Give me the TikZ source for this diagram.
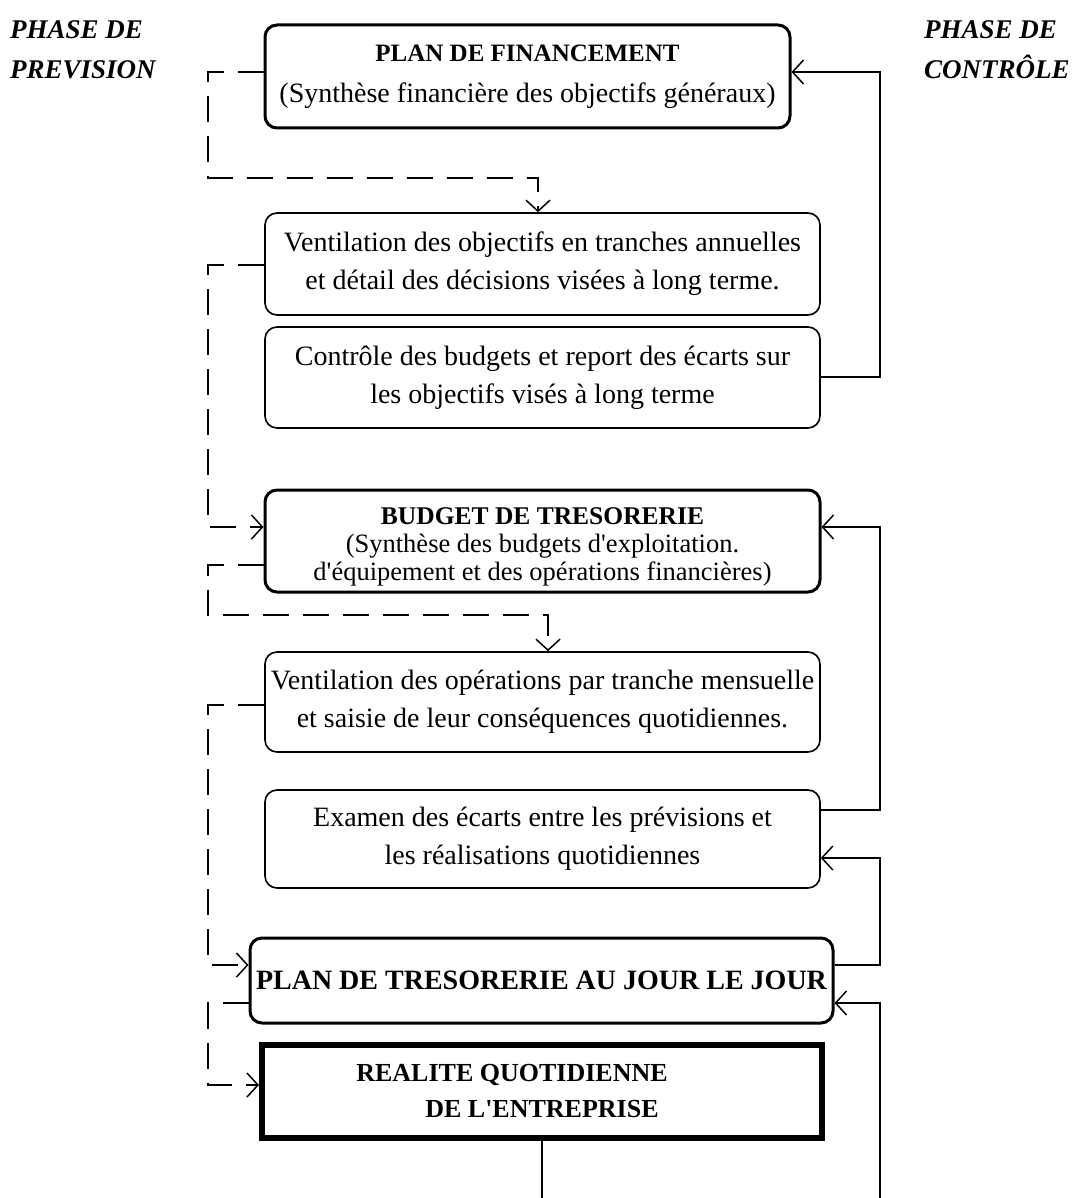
\documentclass[tikz,border=0pt]{standalone}
\usepackage{fontspec}
\setmainfont{Liberation Serif}
\usetikzlibrary{arrows.meta}
\newcommand{\apos}{\textquotesingle}
\begin{document}
\begin{tikzpicture}[x=1pt,y=-1pt,
  box/.style={draw, rounded corners=12pt, line width=1.6pt, align=center,
    inner sep=0pt, font=\fontsize{28}{38}\selectfont},
  keybox/.style={box, line width=3pt},
  realbox/.style={draw, line width=6pt, align=center, inner sep=0pt,
    font=\fontsize{26}{36}\selectfont\bfseries},
  flow/.style={line width=1.5pt, -{Straight Barb[length=11pt,width=24pt]}},
  plan/.style={flow, dash pattern=on 26pt off 14pt},
  link/.style={line width=1.5pt},
  phase/.style={font=\fontsize{27}{40}\selectfont\bfseries\itshape,
    align=left, anchor=north west, inner sep=0pt}
]
\useasboundingbox (0,0) rectangle (1080,1198);

% phase headings
\node[phase] (prev) at (10,20) {PHASE DE\\PREVISION};
\node[phase] (ctrl) at (924,20) {PHASE DE\\CONTRÔLE};

% boxes
\node[keybox, minimum width=525pt, minimum height=103pt,
  font=\fontsize{28}{40}\selectfont] (fin) at (527.5,76.5)
  {{\fontsize{25}{40}\selectfont\bfseries PLAN DE FINANCEMENT}\\[1pt]
   (Synthèse financière des objectifs généraux)};
\node[box, minimum width=555pt, minimum height=102pt] (vobj) at (542.5,264)
  {Ventilation des objectifs en tranches annuelles\\
   et détail des décisions visées à long terme.};
\node[box, minimum width=555pt, minimum height=101pt] (cbud) at (542.5,377.5)
  {Contrôle des budgets et report des écarts sur\\
   les objectifs visés à long terme};
\node[keybox, minimum width=555pt, minimum height=102pt] (bud) at (542.5,541) {};
\node[align=center, inner sep=0pt, font=\fontsize{26.5}{28}\selectfont]
  (budtext) at (542.5,547)
  {{\fontsize{25.5}{28}\selectfont\bfseries BUDGET DE TRESORERIE}\\
   (Synthèse des budgets d\apos exploitation.\\
   d\apos équipement et des opérations financières)};
\node[box, minimum width=555pt, minimum height=100pt] (vop) at (542.5,702)
  {Ventilation des opérations par tranche mensuelle\\
   et saisie de leur conséquences quotidiennes.};
\node[box, minimum width=555pt, minimum height=98pt] (exam) at (542.5,839)
  {Examen des écarts entre les prévisions et\\
   les réalisations quotidiennes};
\node[keybox, minimum width=583pt, minimum height=85pt,
  font=\fontsize{28}{34}\selectfont\bfseries] (jour) at (541.5,980.5)
  {PLAN DE TRESORERIE AU JOUR LE JOUR};
\node[realbox, minimum width=560pt, minimum height=93pt] (real) at (542,1091.5)
  {REALITE QUOTIDIENNE\hspace*{60pt}\\DE L\apos ENTREPRISE};

% loose ends at the lower edge
\coordinate (realout) at (real.south |- 0,1198);
\coordinate (feedin) at (880,1198);

% forecasting links (dashed, left side)
\draw[plan] (fin.west |- 0,72) -- (208,72) -- (208,178) -- (538,178)
  -- (538,0 |- vobj.north);
\draw[plan] (vobj.west |- 0,265) -- (208,265) -- (208,527) -- (bud.west |- 0,527);
\draw[plan] (bud.west |- 0,565) -- (208,565) -- (208,615) -- (548,615)
  -- (548,0 |- vop.north);
\draw[plan] (vop.west |- 0,705) -- (208,705) -- (208,965) -- (jour.west |- 0,965);
\draw[plan] (jour.west |- 0,1003) -- (208,1003) -- (208,1085) -- (real.west |- 0,1085);

% control links (solid, right side)
\draw[flow] (cbud.east |- 0,377) -- (880,377) -- (880,72) -- (fin.east |- 0,72);
\draw[flow] (exam.east |- 0,810) -- (880,810) -- (880,527) -- (bud.east |- 0,527);
\draw[flow] (jour.east |- 0,965) -- (880,965) -- (880,858) -- (exam.east |- 0,858);
\draw[flow] (feedin) -- (880,1003) -- (jour.east |- 0,1003);
\draw[link] (real.south) -- (realout);
\end{tikzpicture}
\end{document}
